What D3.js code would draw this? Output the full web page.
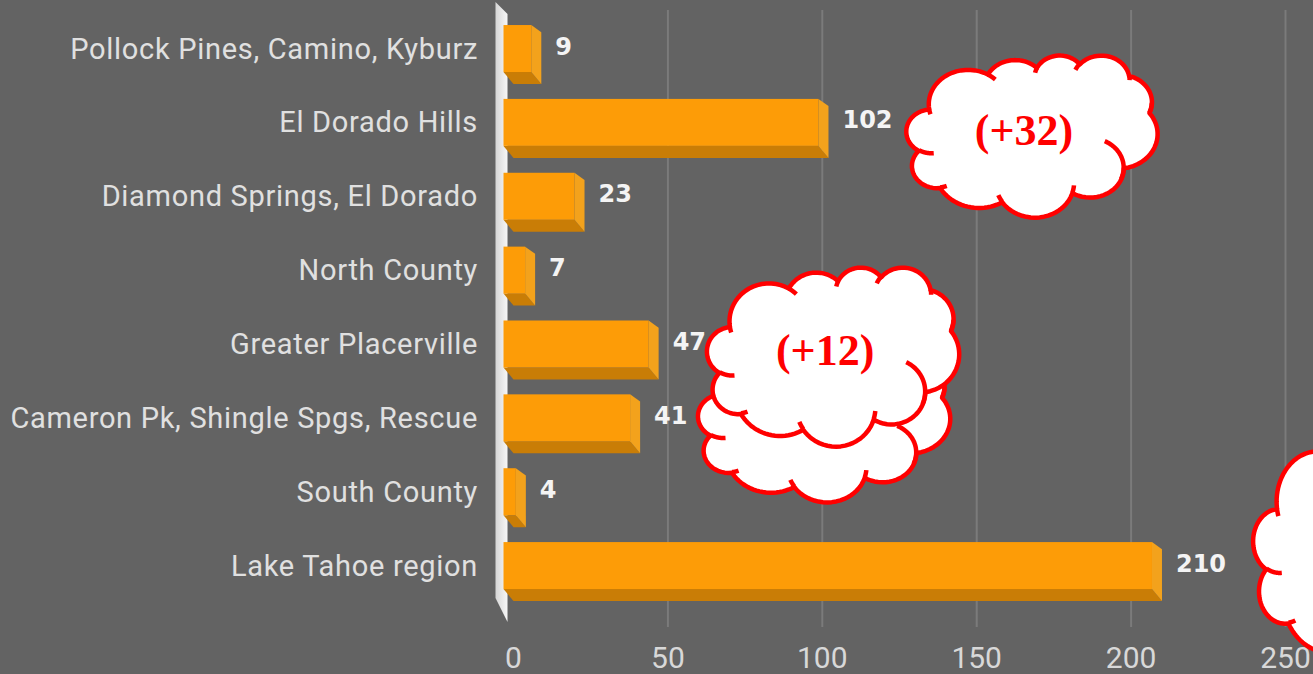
<!DOCTYPE html>
<html>
<head>
<meta charset="utf-8">
<script src="https://cdn.jsdelivr.net/npm/d3@7"></script>
<style>
  html, body { margin: 0; padding: 0; background: #636363; overflow: hidden; }
  svg { display: block; }
</style>
</head>
<body>
<svg id="chart" width="1313" height="674"></svg>
<script>
// data
let categories = [
  "Pollock Pines, Camino, Kyburz",
  "El Dorado Hills",
  "Diamond Springs, El Dorado",
  "North County",
  "Greater Placerville",
  "Cameron Pk, Shingle Spgs, Rescue",
  "South County",
  "Lake Tahoe region"
];
let values = [9, 102, 23, 7, 47, 41, 4, 210];
let tickValues = [0, 50, 100, 150, 200, 250];

// callout clouds: centre in value units / row units, size in px
let calloutTexts = ["", "(+12)", "(+32)", ""];
let calloutValues = [100.6, 103.5, 167.9, 282];
let calloutRows = [5.04, 4.17, 1.185, 6.76];
let calloutWidths = [252, 252, 251, 262];
let calloutHeights = [162, 179, 162, 236];

let W = 1313, H = 674;
let svg = d3.select("#chart");

svg.append("rect").attr("width", W).attr("height", H).attr("fill", "#636363");

let x = d3.scaleLinear().domain([0, 250]).range([513.5, 1285.5]);
let y = d3.scaleBand()
  .domain(categories)
  .range([11.6, 602.5])
  .paddingInner(0.364)
  .paddingOuter(0.182);
let bw = y.bandwidth();
// continuous row position (row index -> centre y)
let rowY = d3.scaleLinear().domain([0, 1]).range([y(categories[0]) + bw / 2, y(categories[1]) + bw / 2]);

let depthX = 10, depthY = 12;

// gridlines
svg.append("g")
  .selectAll("line")
  .data(tickValues.filter(t => t > 0))
  .enter()
  .append("line")
  .attr("x1", d => x(d))
  .attr("x2", d => x(d))
  .attr("y1", 10)
  .attr("y2", 627)
  .style("stroke", "#7b7b7b")
  .style("stroke-width", 2);

// left 3d wall
let defs = svg.append("defs");
let wg = defs.append("linearGradient").attr("id", "wallGrad")
  .attr("x1", "0%").attr("x2", "100%");
wg.append("stop").attr("offset", "0%").attr("stop-color", "#d6d6d6");
wg.append("stop").attr("offset", "100%").attr("stop-color", "#f7f7f7");

let wl = x(0) - 18, wr = x(0) - 6;
svg.append("polygon")
  .attr("points", [[wl, 2], [wr, 14], [wr, 622], [wl, 598]].map(p => p.join(",")).join(" "))
  .attr("fill", "url(#wallGrad)");

// bars
let bars = svg.append("g").selectAll("g")
  .data(categories.map((c, i) => ({ cat: c, v: values[i] })))
  .enter()
  .append("g");

bars.append("polygon") // bottom face
  .attr("points", function(d) {
    let yb = y(d.cat) + bw;
    return [[x(0) - depthX, yb], [x(d.v) - depthX, yb], [x(d.v), yb + depthY], [x(0), yb + depthY]]
      .map(p => p.join(",")).join(" ");
  })
  .attr("fill", "#c97d06");

bars.append("polygon") // side face
  .attr("points", function(d) {
    let yt = y(d.cat), yb = y(d.cat) + bw;
    return [[x(d.v) - depthX, yt], [x(d.v), yt + depthY * 0.6], [x(d.v), yb + depthY], [x(d.v) - depthX, yb]]
      .map(p => p.join(",")).join(" ");
  })
  .attr("fill", "#f3a21c");

bars.append("rect") // front face
  .attr("x", x(0) - depthX)
  .attr("y", d => y(d.cat))
  .attr("width", d => x(d.v) - x(0))
  .attr("height", bw)
  .attr("fill", "#fd9c07");

// value labels
svg.append("g").selectAll("text")
  .data(categories.map((c, i) => ({ cat: c, v: values[i] })))
  .enter()
  .append("text")
  .attr("x", d => x(d.v) + 14)
  .attr("y", d => y(d.cat) + bw / 2 - 2)
  .attr("dominant-baseline", "central")
  .style("font-family", "'DejaVu Sans', sans-serif")
  .style("font-weight", "bold")
  .style("font-size", "24px")
  .style("fill", "#f4f4f4")
  .text(d => d.v);

// category labels
svg.append("g").selectAll("text")
  .data(categories)
  .enter()
  .append("text")
  .attr("x", 478)
  .attr("y", d => y(d) + bw / 2)
  .attr("text-anchor", "end")
  .attr("dominant-baseline", "central")
  .style("font-family", "Roboto, sans-serif")
  .style("font-size", "29px")
  .style("letter-spacing", "0.7px")
  .style("fill", "#e0e0e0")
  .text(d => d);

// x axis tick labels
svg.append("g").selectAll("text")
  .data(tickValues)
  .enter()
  .append("text")
  .attr("x", d => x(d))
  .attr("y", 668)
  .attr("text-anchor", "middle")
  .style("font-family", "Roboto, sans-serif")
  .style("font-size", "30px")
  .style("fill", "#d8d8d8")
  .text(d => d);

// ---- cloud shape (office preset, 43200 units, arc angles in 60000ths of a degree)
let cloudStart = [3900, 14370];
let cloudArcs = [
  [6753, 9190, -11429249, 7426832],
  [5333, 7267, -8646143, 5396714],
  [4365, 5945, -8748475, 5983381],
  [4857, 6595, -7859164, 7034504],
  [5333, 7273, -4722533, 6541615],
  [6775, 9220, -2776035, 7816140],
  [5785, 7867, 37501, 6842000],
  [6752, 9215, 1347096, 6910353],
  [7720, 10543, 3974558, 4542661],
  [4360, 5918, -16496525, 8804134],
  [4345, 5945, -14809710, 9151131]
];
// inner strokes; the last flag means "run on until it meets the outline"
let cloudInner = [
  [4693, 26177, 4345, 5945, 5204520, 1585770, false],
  [6928, 34899, 4360, 5918, 4416628, 686848, false],
  [16478, 39090, 6752, 9215, 8257449, 844866, false],
  [28827, 34751, 6752, 9215, 387196, 959901, false],
  [34129, 22954, 5785, 7867, -4217541, 6000000, true],
  [41798, 15354, 5333, 7273, 1819082, -1665090, false],
  [38324, 5426, 4857, 6595, -824660, 891534, false],
  [29078, 3952, 4857, 6595, -8950887, 1091722, false],
  [22141, 4720, 4365, 5945, -9809656, 1061181, false],
  [14000, 5192, 6753, 9190, -4002417, 739161, false],
  [4127, 15789, 6753, 9190, 9459261, 711490, false]
];

function ellipsePt(wR, hR, ang) {
  let t = Math.atan2(wR * Math.sin(ang), hR * Math.cos(ang));
  return [wR * Math.cos(t), hR * Math.sin(t)];
}

function arcPoints(p, wR, hR, st, sw, n) {
  let a1 = st / 60000 * Math.PI / 180;
  let a2 = (st + sw) / 60000 * Math.PI / 180;
  let s = ellipsePt(wR, hR, a1);
  let cx = p[0] - s[0], cy = p[1] - s[1];
  let pts = [];
  n = n || 24;
  for (let k = 1; k <= n; k++) {
    let e = ellipsePt(wR, hR, a1 + (a2 - a1) * k / n);
    pts.push([cx + e[0], cy + e[1]]);
  }
  return pts;
}

function cloudOutline() {
  let pts = [cloudStart];
  let cur = cloudStart;
  cloudArcs.forEach(function(a) {
    let seg = arcPoints(cur, a[0], a[1], a[2], a[3]);
    pts = pts.concat(seg);
    cur = seg[seg.length - 1];
  });
  return pts;
}

let outlinePts = cloudOutline();

function innerStroke(a) {
  let seg = [[a[0], a[1]]].concat(arcPoints([a[0], a[1]], a[2], a[3], a[4], a[5], 80));
  if (!a[6]) return seg;
  let out = [];
  for (let k = 0; k < seg.length; k++) {
    out.push(seg[k]);
    if (k > 0 && !d3.polygonContains(outlinePts, seg[k])) break;
  }
  return out;
}

function drawCloud(g, cx, cy, w, h, label) {
  let sx = d3.scaleLinear().domain([0, 43200]).range([cx - w / 2, cx + w / 2]);
  let sy = d3.scaleLinear().domain([0, 43200]).range([cy - h / 2, cy + h / 2]);
  let line = d3.line().x(d => sx(d[0])).y(d => sy(d[1])).curve(d3.curveLinear);

  g.append("path")
    .attr("d", line(outlinePts) + "Z")
    .style("fill", "white")
    .style("stroke", "#ff0000")
    .style("stroke-width", 4.5)
    .style("stroke-linejoin", "round");

  cloudInner.forEach(function(a) {
    g.append("path")
      .attr("d", line(innerStroke(a)))
      .style("fill", "none")
      .style("stroke", "#ff0000")
      .style("stroke-width", 4.5);
  });

  if (label) {
    g.append("text")
      .attr("x", cx - 8)
      .attr("y", cy - 6)
      .attr("text-anchor", "middle")
      .attr("dominant-baseline", "central")
      .style("font-family", "'Liberation Serif', 'DejaVu Serif', serif")
      .style("font-weight", "bold")
      .style("font-size", "44px")
      .style("fill", "#ff0000")
      .text(label);
  }
}

let clouds = svg.append("g");
for (let i = 0; i < calloutTexts.length; i++) {
  drawCloud(clouds.append("g"),
    x(calloutValues[i]), rowY(calloutRows[i]),
    calloutWidths[i], calloutHeights[i], calloutTexts[i]);
}
</script>
</body>
</html>
